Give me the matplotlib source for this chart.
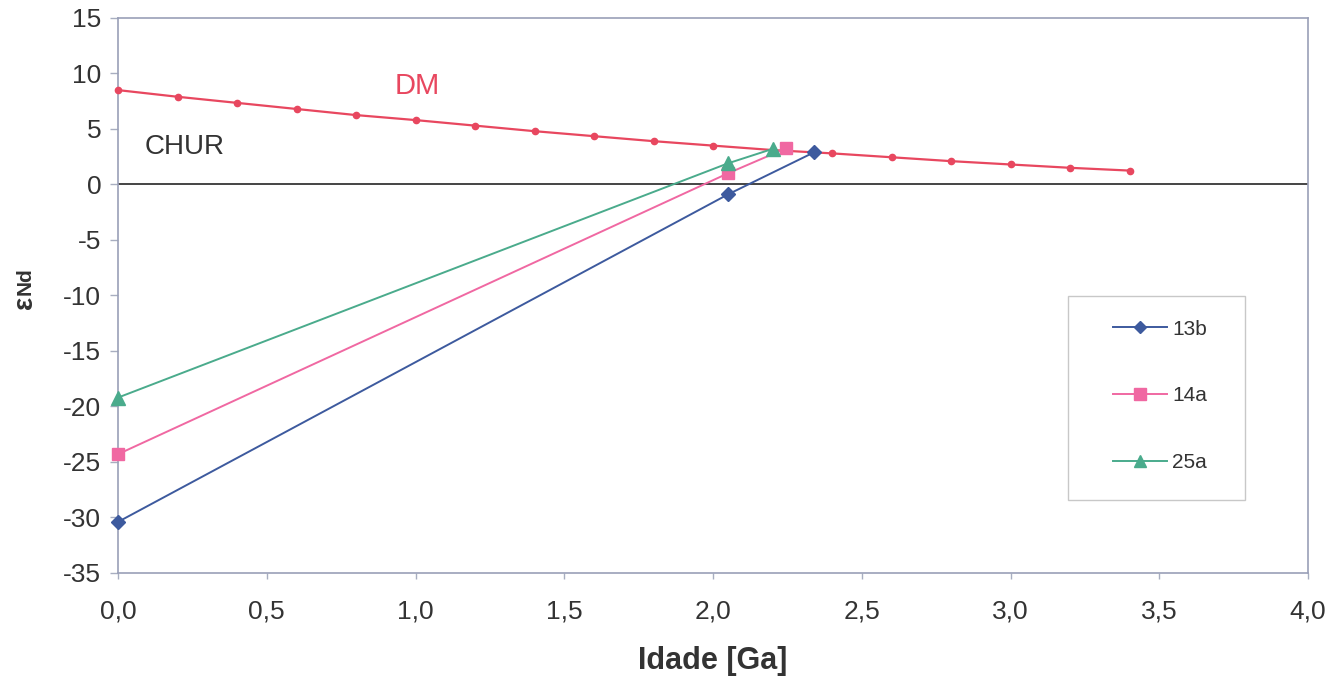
import matplotlib
matplotlib.use("Agg")
import matplotlib.pyplot as plt
from matplotlib.patches import Rectangle
from matplotlib.ticker import FixedLocator, FuncFormatter

plt.rcParams['font.family'] = ['Liberation Sans', 'DejaVu Sans']

# Depleted mantle evolution curve
dm_age = [0.0, 0.2, 0.4, 0.6, 0.8, 1.0, 1.2, 1.4, 1.6, 1.8,
          2.0, 2.2, 2.4, 2.6, 2.8, 3.0, 3.2, 3.4]
dm_eps = [8.5, 7.9, 7.35, 6.8, 6.25, 5.8, 5.3, 4.8, 4.35, 3.9,
          3.5, 3.1, 2.8, 2.45, 2.1, 1.8, 1.5, 1.25]

# Sample evolution lines (age in Ga, epsilon Nd)
s13b_age = [0.0, 2.05, 2.34]
s13b_eps = [-30.4, -0.9, 2.9]
s14a_age = [0.0, 2.05, 2.245]
s14a_eps = [-24.3, 1.0, 3.25]
s25a_age = [0.0, 2.05, 2.2]
s25a_eps = [-19.2, 1.9, 3.2]

x_ticks = [0.0, 0.5, 1.0, 1.5, 2.0, 2.5, 3.0, 3.5, 4.0]
y_ticks = [-35, -30, -25, -20, -15, -10, -5, 0, 5, 10, 15]

c_dm = '#e8475f'
c_13b = '#3d5a9e'
c_14a = '#f068a2'
c_25a = '#4aab8c'
c_text = '#333333'

fig = plt.figure(figsize=(13.41, 6.80), dpi=100)
ax = fig.add_axes([0.088, 0.1574, 0.8874, 0.8162])

ax.set_xlim(0, 4.0)
ax.set_ylim(-35, 15)

ax.axhline(0, color='#444444', lw=1.4, zorder=1)

ax.plot(dm_age, dm_eps, color=c_dm, lw=1.6, marker='o', ms=4.5,
        markerfacecolor=c_dm, markeredgecolor=c_dm, zorder=3, clip_on=False)
ax.plot(s13b_age, s13b_eps, color=c_13b, lw=1.4, marker='D', ms=7,
        label='13b', zorder=4, clip_on=False)
ax.plot(s14a_age, s14a_eps, color=c_14a, lw=1.4, marker='s', ms=9,
        label='14a', zorder=4, clip_on=False)
ax.plot(s25a_age, s25a_eps, color=c_25a, lw=1.4, marker='^', ms=10,
        label='25a', zorder=5, clip_on=False)

ax.text(0.93, 8.9, 'DM', color=c_dm, fontsize=21, va='center', ha='left')
ax.text(0.09, 3.4, 'CHUR', color=c_text, fontsize=20, va='center', ha='left')

ax.xaxis.set_major_locator(FixedLocator(x_ticks))
ax.yaxis.set_major_locator(FixedLocator(y_ticks))
ax.xaxis.set_major_formatter(FuncFormatter(lambda v, p: f'{v:.1f}'.replace('.', ',')))
ax.yaxis.set_major_formatter(FuncFormatter(lambda v, p: f'{int(v)}'))
ax.tick_params(axis='both', labelsize=19, labelcolor=c_text, color='#a8aec0',
               width=1, direction='out')
ax.tick_params(axis='y', length=6, pad=6)
ax.tick_params(axis='x', length=4, pad=15)

for sp in ax.spines.values():
    sp.set_color('#9aa0b8')
    sp.set_linewidth(1.2)

ax.set_xlabel('Idade [Ga]', fontsize=22, fontweight='bold', color=c_text,
              labelpad=16)

# y-axis label: epsilon with Nd
fig.text(0.019, 0.5655, 'Nd', rotation=90, fontsize=15, fontweight='bold',
         color=c_text, ha='center', va='bottom')
fig.text(0.019, 0.5655, 'ε', rotation=90, fontsize=20, fontweight='bold',
         color=c_text, ha='center', va='top')

# legend box drawn as its own frame, entries placed inside it
ax.add_patch(Rectangle((0.798, 0.1315), 0.1487, 0.3676, transform=ax.transAxes,
                       facecolor='white', edgecolor='#c8c8c8', lw=1.0, zorder=6))
leg = ax.legend(loc='center', bbox_to_anchor=(0.8756, 0.319), fontsize=15,
                frameon=False, labelspacing=2.3, handlelength=2.6,
                handletextpad=0.25, borderpad=0, borderaxespad=0,
                markerscale=0.9)
leg.set_zorder(7)
for t in leg.get_texts():
    t.set_color(c_text)

fig.savefig('out.png', dpi=100, facecolor='white')
